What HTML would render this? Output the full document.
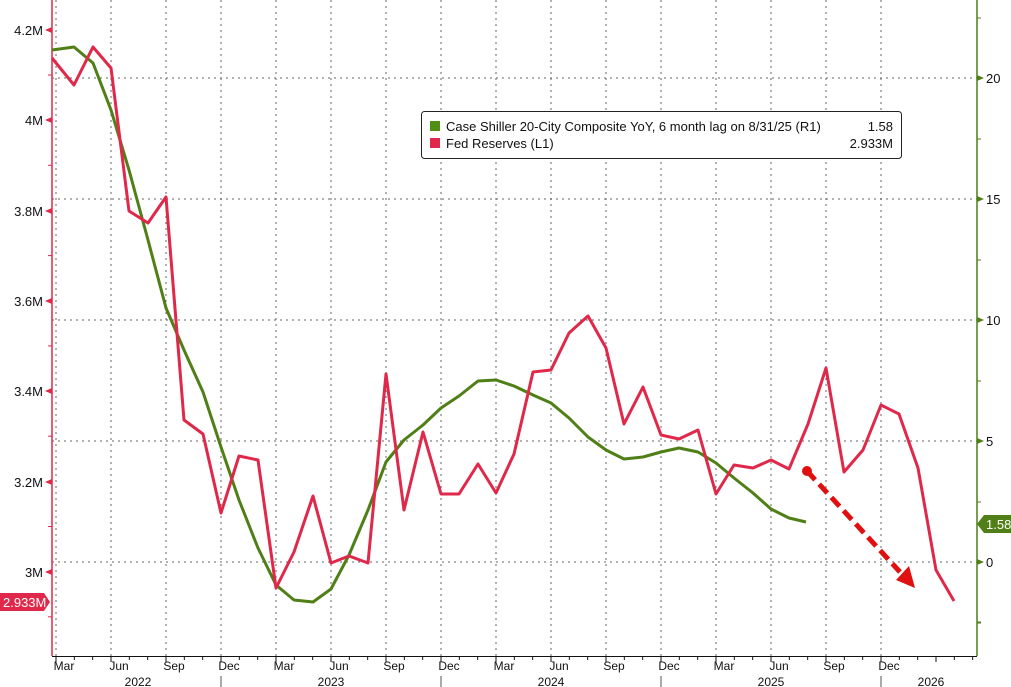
<!DOCTYPE html>
<html><head><meta charset="utf-8"><style>
html,body{margin:0;padding:0;background:#fff;}
svg{display:block;font-family:"Liberation Sans","DejaVu Sans",sans-serif;}
</style></head><body>
<svg id="s" width="1011" height="687" viewBox="0 0 1011 687" xmlns="http://www.w3.org/2000/svg">
<rect width="1011" height="687" fill="#fff"/>
<g id="grid" stroke="#666" stroke-width="1" stroke-dasharray="2,4"></g>
<g id="ax"></g>
<polyline fill="none" stroke="#4f7f16" stroke-width="3" stroke-linejoin="round" points="52,50 74,47 93,63 111,110 129,170 148,240 166,308 184,350 203,392 221,447 239,500 258,548 276,585 294,600 313,602 331,589 349,555 368,510 386,462 404,440 423,425 441,408 459,396 478,381 496,380 514,386 533,395 551,403 569,418 588,437 606,450 624,459 643,457 661,452 679,448 698,452 716,463 734,478 753,493 771,509 789,518 806,522"/>
<polyline fill="none" stroke="#e0284a" stroke-width="3" stroke-linejoin="round" points="52,58 74,85 93,47 111,68 129,211 148,223 166,197 184,420 203,434 221,513 239,456 258,460 276,588 294,552 313,496 331,563 349,556 368,563 386,374 404,510 423,432 441,494 459,494 478,464 496,493 514,454 533,372 551,370 569,333 588,316 606,348 624,424 643,387 661,435 679,439 698,430 716,494 734,465 753,468 771,460 789,469 808,424 826,368 844,472 863,450 881,405 899,414 918,468 936,570 954,601"/>
<line x1="807" y1="471" x2="900" y2="572" stroke="#e01010" stroke-width="5" stroke-dasharray="12,6"/>
<circle cx="807" cy="471" r="5" fill="#e01010"/>
<polygon points="915,588 896,580 909,566" fill="#e01010"/>
<rect x="421.5" y="111.5" width="480" height="47" rx="3" fill="#fff" stroke="#222"/>
<rect x="430" y="121" width="10" height="10" fill="#4f8f16"/>
<rect x="430" y="138" width="10" height="10" fill="#e0284a"/>
<text x="446" y="131" font-size="13" fill="#111">Case Shiller 20-City Composite YoY, 6 month lag on 8/31/25 (R1)</text>
<text x="893" y="131" font-size="13" fill="#111" text-anchor="end">1.58</text>
<text x="446" y="148" font-size="13" fill="#111">Fed Reserves (L1)</text>
<text x="893" y="148" font-size="13" fill="#111" text-anchor="end">2.933M</text>
<polygon points="0,593 44,593 50,602 44,611 0,611" fill="#e0284a"/>
<text x="3" y="607" font-size="13" fill="#fff">2.933M</text>
<polygon points="977,524 984,515 1011,515 1011,533 984,533" fill="#4f7f16"/>
<text x="986" y="529" font-size="13" fill="#fff">1.58</text>
</svg>
<script>
var ns="http://www.w3.org/2000/svg";
function el(p,t,a,txt){var e=document.createElementNS(ns,t);for(var k in a)e.setAttribute(k,a[k]);if(txt)e.textContent=txt;document.getElementById(p).appendChild(e);return e;}
var step=55/3;
for(var i=0;i<16;i++){var x=56+55*i;el("grid","line",{x1:x,y1:0,x2:x,y2:656});}
[78,199,320,441,562].forEach(function(y){el("grid","line",{x1:52,y1:y,x2:977,y2:y});});
el("ax","line",{x1:52,y1:0,x2:52,y2:656,stroke:"#e0284a","stroke-width":1.5});
el("ax","line",{x1:977,y1:0,x2:977,y2:656,stroke:"#4f7f16","stroke-width":1.5});
el("ax","line",{x1:52,y1:656.5,x2:977,y2:656.5,stroke:"#111","stroke-width":1});
var L=[["4.2M",30],["4M",120],["3.8M",211],["3.6M",301],["3.4M",391],["3.2M",482],["3M",572]];
L.forEach(function(d){el("ax","polygon",{points:"45,"+d[1]+" 52,"+(d[1]-3)+" 52,"+(d[1]+3),fill:"#e0284a"});
el("ax","text",{x:43,y:d[1]+5,"font-size":13,fill:"#111","text-anchor":"end"},d[0]);});
for(var y=75;y<656;y+=90.3)el("ax","line",{x1:48,y1:y,x2:52,y2:y,stroke:"#e0284a"});
[["20",78],["15",199],["10",320],["5",441],["0",562]].forEach(function(d){el("ax","polygon",{points:"977,"+(d[1]-3)+" 984,"+d[1]+" 977,"+(d[1]+3),fill:"#4f7f16"});
el("ax","text",{x:986,y:d[1]+5,"font-size":13,fill:"#111"},d[0]);});
for(var y=18;y<656;y+=121)el("ax","line",{x1:977,y1:y,x2:981,y2:y,stroke:"#4f7f16"});
[622].forEach(function(y){el("ax","line",{x1:977,y1:y,x2:981,y2:y,stroke:"#4f7f16"});});
for(var m=-1;m<52;m++){var x=56+step*m;if(x<52||x>977)continue;el("ax","line",{x1:x,y1:656,x2:x,y2:(m%3==0?662:660),stroke:"#111"});}
var q=["Mar","Jun","Sep","Dec"];
for(var i=0;i<16;i++){el("ax","text",{x:56+55*i+8,y:670,"font-size":12,fill:"#111","text-anchor":"middle"},q[i%4]);}
[221,441,661,881].forEach(function(x){el("ax","line",{x1:x,y1:676,x2:x,y2:687,stroke:"#555"});});
[["2022",138],["2023",331],["2024",551],["2025",771],["2026",931]].forEach(function(d){el("ax","text",{x:d[1],y:686,"font-size":12,fill:"#111","text-anchor":"middle"},d[0]);});
</script>
</body></html>
